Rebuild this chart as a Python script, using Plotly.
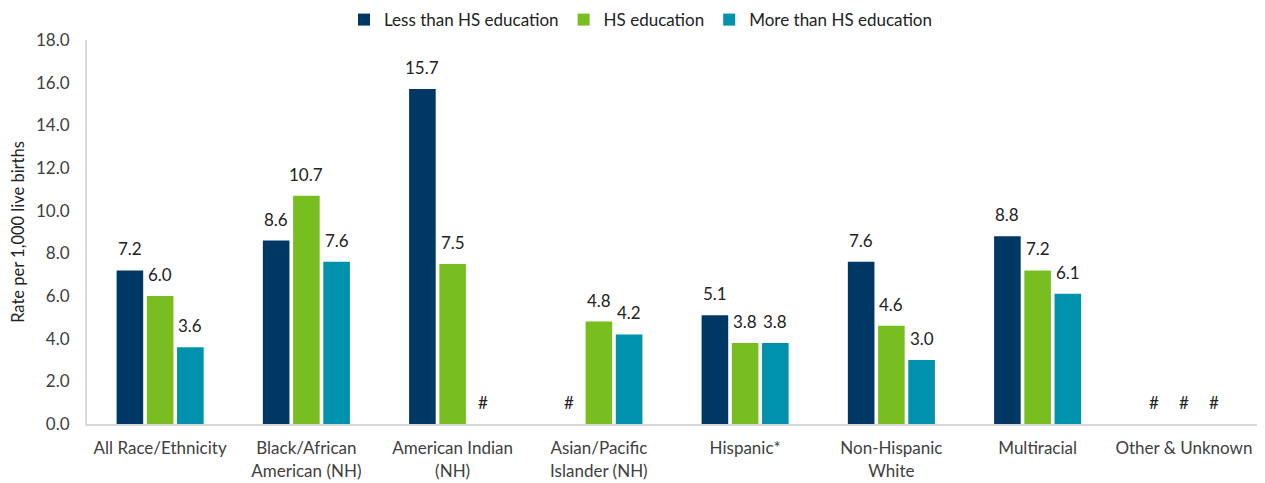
import plotly.graph_objects as go

categories = ["All Race/Ethnicity", "Black/African<br>American (NH)", "American Indian<br>(NH)",
              "Asian/Pacific<br>Islander (NH)", "Hispanic*", "Non-Hispanic<br>White", "Multiracial",
              "Other & Unknown"]
less_hs = [7.2, 8.6, 15.7, None, 5.1, 7.6, 8.8, None]
hs = [6.0, 10.7, 7.5, 4.8, 3.8, 4.6, 7.2, None]
more_hs = [3.6, 7.6, None, 4.2, 3.8, 3.0, 6.1, None]
series_names = ["Less than HS education", "HS education", "More than HS education"]
colors = ["#003865", "#78BE21", "#0091AD"]

FONT = "Lato, Open Sans, sans-serif"
W, H = 1265, 483
# page body adds an 8px offset; compensate in margins
ML, MR, MT, MB = 79, 16, 32, 67
BARGAP = 0.38

fig = go.Figure()
all_series = [less_hs, hs, more_hs]
for name, vals, col in zip(series_names, all_series, colors):
    ys = [v if v is not None else 0 for v in vals]
    fig.add_trace(go.Bar(
        name=name, x=categories, y=ys, marker_color=col, marker_line_width=0,
        hoverinfo="skip"))

# data labels as annotations anchored to bar tops
plot_w = W - ML - MR
cat_w = plot_w / len(categories)
slot = cat_w * (1 - BARGAP) / len(all_series)
annotations = []
for i, vals in enumerate(all_series):
    shift = (i - (len(all_series) - 1) / 2) * slot
    for cat, v in zip(categories, vals):
        annotations.append(dict(
            x=cat, y=v if v is not None else 0, xref="x", yref="y",
            text=f"{v:.1f}" if v is not None else "#",
            showarrow=False, xshift=shift, yanchor="bottom", yshift=9,
            font=dict(size=17, color="#222222", family=FONT)))

fig.update_layout(
    width=W, height=H, barmode="group", bargap=BARGAP, bargroupgap=0.12,
    plot_bgcolor="white", paper_bgcolor="white",
    margin=dict(l=ML, r=MR, t=MT, b=MB, autoexpand=False),
    font=dict(family=FONT, size=17, color="#404040"),
    legend=dict(orientation="h", x=0.5, xanchor="center", xref="container",
                y=1.052, yanchor="middle", yref="paper",
                font=dict(size=17, color="#222222"), traceorder="normal",
                itemwidth=30),
    annotations=annotations,
)
fig.update_yaxes(range=[0, 18], dtick=2, tickformat=".1f", showgrid=False,
                 showline=True, linecolor="#d9d9d9", linewidth=2,
                 title=dict(text="Rate per 1,000 live births", font=dict(size=16.5, color="#222222"),
                            standoff=12),
                 ticks="outside", ticklen=12, tickcolor="white", zeroline=False,
                 tickfont=dict(size=17, color="#404040"))
fig.update_xaxes(showline=True, linecolor="#d9d9d9", linewidth=2, ticks="outside",
                 ticklen=8, tickcolor="white",
                 tickfont=dict(size=17, color="#404040"))
fig.write_html("out.html")
